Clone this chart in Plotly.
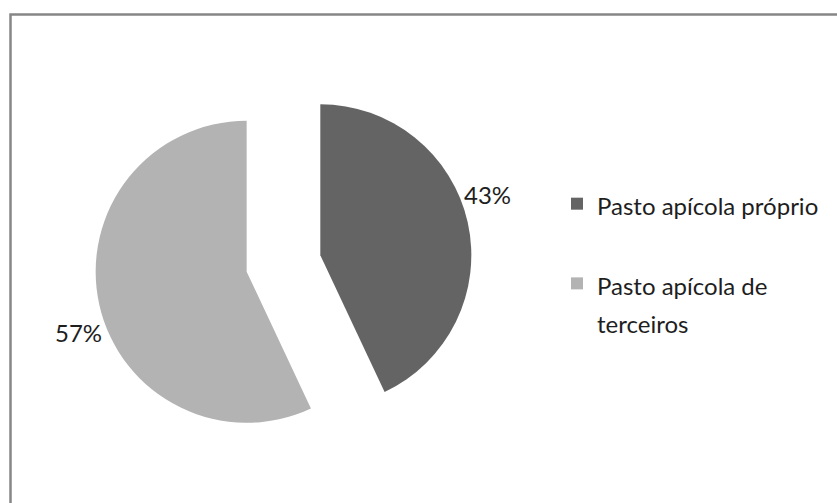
import plotly.graph_objects as go

# Share of apiculture pasture by ownership
labels = ["Pasto apícola próprio", "Pasto apícola de<br>terceiros"]
values = [43, 57]
colors = ["#646464", "#B3B3B3"]

W, H = 837, 503
FONT = "Lato"
FS = 24
TXT = "#1e1e1e"

# Legend rows use a taller line box than the text itself, so entries sit apart
LEGEND_FS = 29.5
legend_text = [
    f'<span style="font-size:{FS}px">{labels[0]}</span><br> ',
    "<br>".join(f'<span style="font-size:{FS}px">{part}</span>' for part in labels[1].split("<br>")),
]

fig = go.Figure(
    go.Pie(
        labels=legend_text,
        values=values,
        sort=False,
        direction="clockwise",
        rotation=0,
        pull=[0.25, 0.25],
        marker=dict(colors=colors, line=dict(width=0)),
        textinfo="none",
        domain=dict(x=[0.1132, 0.5642], y=[0.1008, 0.8514]),
        hoverinfo="percent",
    )
)

# Percentage labels beside each slice
total = sum(values)
label_pos = [(487, 195), (78, 332)]
for v, (px, py) in zip(values, label_pos):
    fig.add_annotation(
        x=px / W,
        y=1 - py / H,
        xref="paper",
        yref="paper",
        text=f"{round(100 * v / total)}%",
        showarrow=False,
        xanchor="center",
        yanchor="middle",
        font=dict(family=FONT, size=FS, color=TXT),
    )

fig.update_layout(
    width=W,
    height=H,
    margin=dict(l=0, r=0, t=0, b=0, autoexpand=False),
    paper_bgcolor="white",
    plot_bgcolor="white",
    showlegend=True,
    legend=dict(
        x=557 / W,
        y=1 - 178 / H,
        xanchor="left",
        yanchor="top",
        font=dict(family=FONT, size=LEGEND_FS, color=TXT),
        valign="top",
        bgcolor="rgba(0,0,0,0)",
    ),
    shapes=[
        dict(
            type="rect",
            xref="paper",
            yref="paper",
            x0=10.5 / W,
            y0=-0.05,
            x1=1.05,
            y1=1 - 14.5 / H,
            line=dict(color="#868686", width=2.5),
            fillcolor="rgba(0,0,0,0)",
        )
    ],
)

fig.write_html("out.html")
